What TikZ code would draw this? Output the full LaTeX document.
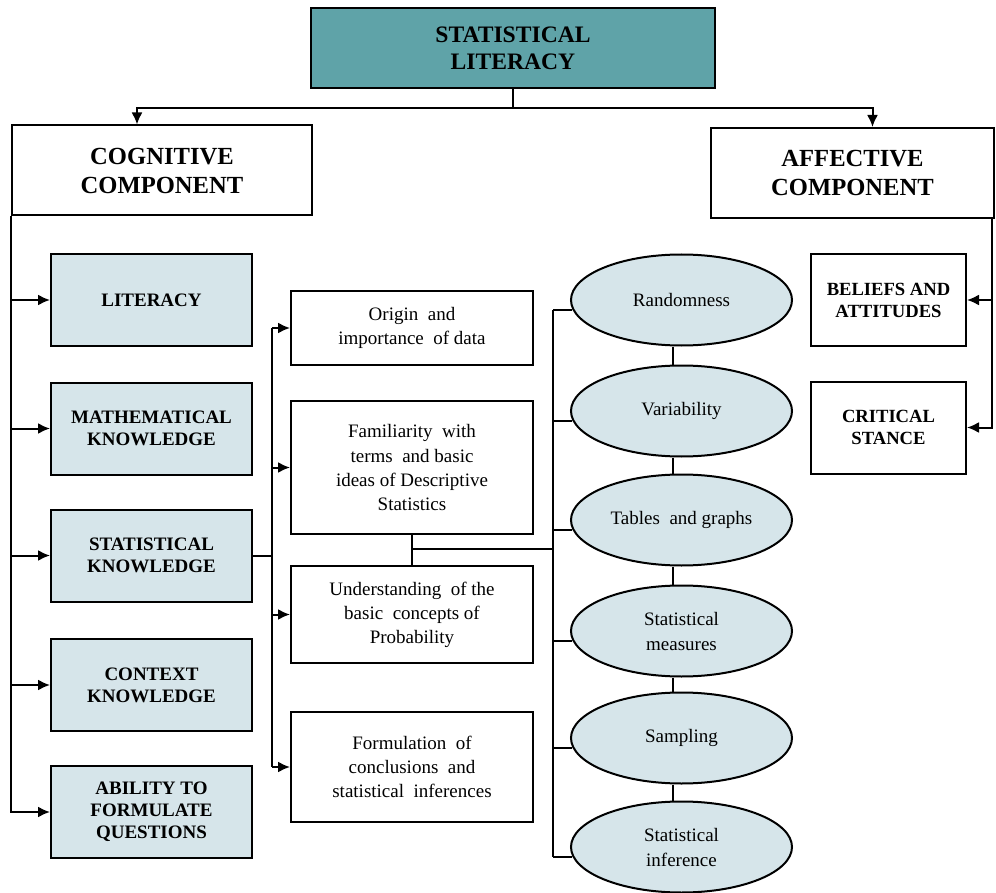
\documentclass[tikz,border=0pt]{standalone}
\usepackage{fontspec}
\setmainfont{Liberation Serif}
\usepackage{xcolor}
\usepackage{tikz}
\usetikzlibrary{shapes.geometric,arrows.meta,calc}
\definecolor{tealfill}{HTML}{5FA3A8}
\definecolor{palefill}{HTML}{D6E5EA}

\begin{document}
\begin{tikzpicture}[x=0.5pt,y=-0.5pt,line width=1pt,>={Latex[length=6pt,width=5.5pt]},
  topbox/.style={draw,fill=tealfill,align=center,font=\fontsize{11.8}{13.5}\selectfont\bfseries,minimum width=202pt,minimum height=40pt},
  compbox/.style={draw,align=center,font=\fontsize{12.3}{14.5}\selectfont\bfseries,minimum height=45pt},
  skillbox/.style={draw,fill=palefill,align=center,font=\fontsize{9.5}{11}\selectfont\bfseries,minimum width=100.5pt,minimum height=46pt},
  ideabox/.style={draw,align=center,font=\fontsize{9.5}{12}\selectfont,minimum width=121pt},
  topicell/.style={draw,ellipse,fill=palefill,align=center,font=\fontsize{9.5}{12.5}\selectfont,minimum width=110.5pt,minimum height=45.5pt,inner sep=0pt},
  stancebox/.style={draw,align=center,font=\fontsize{9.3}{11}\selectfont\bfseries,minimum width=77.5pt,minimum height=46pt}]
\useasboundingbox (0,0) rectangle (996,893);
\fill[white] (0,0) rectangle (996,893);

\node[topbox] (title) at (513,48) {STATISTICAL\\LITERACY};
\node[compbox,minimum width=150pt] (cog) at (162,170.5) {COGNITIVE\\COMPONENT};
\node[compbox,minimum width=141.5pt] (aff) at (852.5,173) {AFFECTIVE\\COMPONENT};

\node[skillbox] (literacy) at (151.5,300) {LITERACY};
\node[skillbox] (math) at (151.5,428.5) {MATHEMATICAL\\KNOWLEDGE};
\node[skillbox] (statk) at (151.5,555.5) {STATISTICAL\\KNOWLEDGE};
\node[skillbox] (context) at (151.5,685) {CONTEXT\\KNOWLEDGE};
\node[skillbox] (ability) at (151.5,812) {ABILITY TO\\FORMULATE\\QUESTIONS};

\node[ideabox,minimum height=37pt] (origin) at (412,328) {Origin \ and\\importance \ of data};
\node[ideabox,minimum height=66.5pt] (famil) at (412,467.5) {Familiarity \ with\\terms \ and basic\\ideas of Descriptive\\Statistics};
\node[ideabox,minimum height=48.5pt] (underst) at (412,614.5) {Understanding \ of the\\basic \ concepts of\\Probability};
\node[ideabox,minimum height=55pt] (formul) at (412,767) {Formulation \ of\\conclusions \ and\\statistical \ inferences};

\node[topicell] (rand) at (681.5,300) {Randomness};
\node[topicell] (vari) at (681.5,411) {Variability};
\node[topicell] (tabl) at (681.5,520) {Tables \ and graphs};
\node[topicell] (meas) at (681.5,631) {Statistical\\measures};
\node[topicell] (samp) at (681.5,738) {Sampling};
\node[topicell] (infer) at (681.5,847) {Statistical\\inference};

\node[stancebox] (beliefs) at (888.5,300) {BELIEFS AND\\ATTITUDES};
\node[stancebox] (critical) at (888.5,427.5) {CRITICAL\\STANCE};

\coordinate (fork) at (513,108);
\draw (title.south) -- (fork);
\draw[->] (fork) -| ([xshift=-12.5pt]cog.north);
\draw[->] (fork) -| ([xshift=10pt]aff.north);

\draw[->] (cog.south west) |- (ability.west);
\foreach \b in {literacy,math,statk,context}
  \draw[->] (cog.south west |- \b.west) -- (\b.west);

\coordinate (midbus) at (272,0);
\draw (statk.east) -- (statk.east -| midbus);
\draw (origin.west -| midbus) -- (formul.west -| midbus);
\foreach \b in {origin,famil,underst,formul}
  \draw[->] (\b.west -| midbus) -- (\b.west);

\coordinate (ebus) at (553,0);
\coordinate (famjoin) at ($(famil.south)!0.45!(underst.north)$);
\draw (famil.south) -- (underst.north);
\draw (famjoin) -- (famjoin -| ebus);
\draw (rand.185 -| ebus) -- (infer.185 -| ebus);
\foreach \e in {rand,vari,tabl,meas,samp,infer}
  \draw (\e.185 -| ebus) -- (\e.185);
\draw ([xshift=-4.5pt]rand.south) -- ([xshift=-4.5pt]vari.north);
\draw ([xshift=-4.5pt]vari.south) -- ([xshift=-4.5pt]tabl.north);
\draw ([xshift=-4.5pt]tabl.south) -- ([xshift=-4.5pt]meas.north);
\draw ([xshift=-4.5pt]meas.south) -- ([xshift=-4.5pt]samp.north);
\draw ([xshift=-4.5pt]samp.south) -- ([xshift=-4.5pt]infer.north);

\coordinate (affdrop) at ([xshift=-1.5pt]aff.south east);
\draw[->] (affdrop) |- (critical.east);
\draw[->] (affdrop |- beliefs.east) -- (beliefs.east);
\end{tikzpicture}
\end{document}
